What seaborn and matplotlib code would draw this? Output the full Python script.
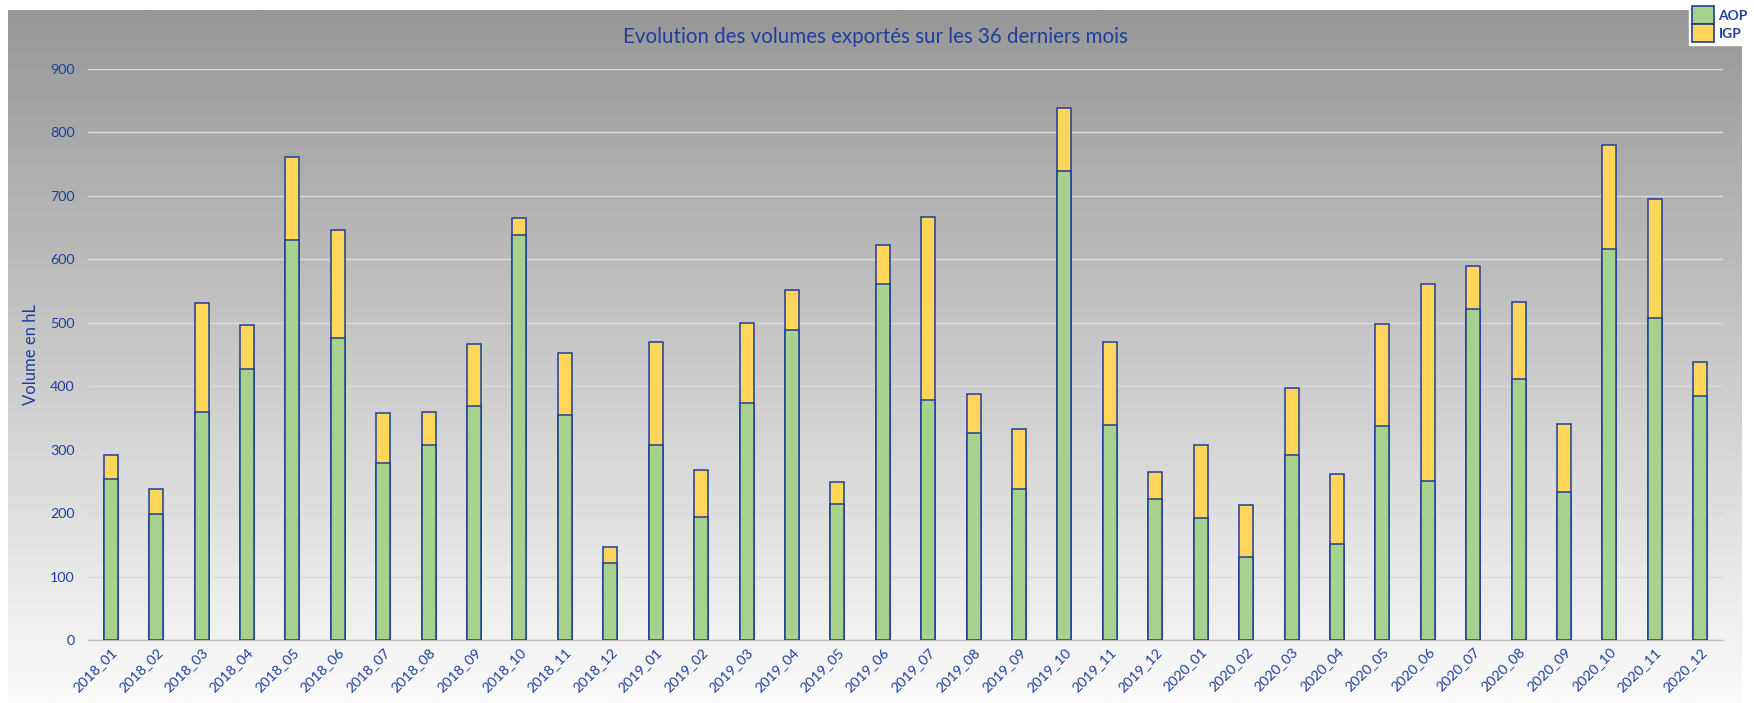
import numpy as np
import pandas as pd
import matplotlib
matplotlib.use("Agg")
import matplotlib.pyplot as plt
from matplotlib.patches import Patch
from matplotlib.colors import LinearSegmentedColormap
import seaborn as sns

months = ["2018_01", "2018_02", "2018_03", "2018_04", "2018_05", "2018_06",
          "2018_07", "2018_08", "2018_09", "2018_10", "2018_11", "2018_12",
          "2019_01", "2019_02", "2019_03", "2019_04", "2019_05", "2019_06",
          "2019_07", "2019_08", "2019_09", "2019_10", "2019_11", "2019_12",
          "2020_01", "2020_02", "2020_03", "2020_04", "2020_05", "2020_06",
          "2020_07", "2020_08", "2020_09", "2020_10", "2020_11", "2020_12"]
aop = [254, 198, 360, 427, 630, 476, 279, 307, 369, 639, 355, 122,
       307, 194, 374, 489, 215, 561, 378, 326, 238, 739, 339, 222,
       192, 131, 291, 152, 337, 251, 522, 411, 233, 616, 508, 385]
total = [291, 238, 531, 496, 761, 646, 358, 360, 466, 665, 452, 146,
         469, 268, 499, 551, 249, 623, 667, 388, 333, 838, 469, 265,
         307, 212, 397, 261, 498, 561, 589, 533, 341, 780, 695, 438]
igp = [t - a for t, a in zip(total, aop)]
yticks = [0, 100, 200, 300, 400, 500, 600, 700, 800, 900]

df = pd.DataFrame({"mois": months, "AOP": aop, "IGP": igp})
df["total"] = df["AOP"] + df["IGP"]

sns.set_style("white")
plt.rcParams["font.family"] = ["Lato", "DejaVu Sans"]

W, H = 1754, 703
fig = plt.figure(figsize=(W / 100, H / 100), dpi=100)
fig.patch.set_facecolor("white")

# gradient chart-area background
bg = fig.add_axes([8 / W, 0, (1742 - 8) / W, (H - 10) / H])
cmap = LinearSegmentedColormap.from_list("g", ["#979797", "#fbfbfb"])
grad = np.linspace(0, 1, 256).reshape(-1, 1)
bg.imshow(grad, aspect="auto", cmap=cmap, extent=[0, 1, 0, 1], origin="upper")
bg.set_axis_off()

blue = "#1F3F9F"
edge = "#1F3D99"
ax = fig.add_axes([88 / W, (H - 640) / H, (1723 - 88) / W, (640 - 69) / H])
ax.set_facecolor("none")

sns.barplot(data=df, x="mois", y="total", color="#FFD55A", edgecolor=edge,
            linewidth=1.1, width=0.31, saturation=1, ax=ax, zorder=3)
sns.barplot(data=df, x="mois", y="AOP", color="#A9D18E", edgecolor=edge,
            linewidth=1.1, width=0.31, saturation=1, ax=ax, zorder=4)

ax.set_ylim(0, 900)
ax.set_xlim(-0.5, len(months) - 0.5)
ax.set_yticks(yticks)
ax.yaxis.grid(True, color="#DADADA", linewidth=1.0, zorder=0)
ax.set_axisbelow(True)
for s in ["top", "right", "left"]:
    ax.spines[s].set_visible(False)
ax.spines["bottom"].set_color("#BFBFBF")
ax.spines["bottom"].set_linewidth(1.0)
ax.tick_params(axis="both", length=0, colors=blue, labelsize=10.3)
ax.tick_params(axis="y", pad=9.5)
ax.tick_params(axis="x", pad=4)
plt.setp(ax.get_xticklabels(), rotation=45, ha="right", rotation_mode="anchor")
ax.set_xlabel("")
ax.set_ylabel("Volume en hL", color=blue, fontsize=12)
ax.yaxis.set_label_coords((39 - 88) / (1723 - 88), 0.5)

fig.text(875 / W, 1 - 37 / H, "Evolution des volumes exportés sur les 36 derniers mois",
         ha="center", va="center", color=blue, fontsize=14.8)

# legend box
handles = [Patch(facecolor="#A9D18E", edgecolor=edge, linewidth=1.2, label="AOP"),
           Patch(facecolor="#FFD55A", edgecolor=edge, linewidth=1.2, label="IGP")]
leg = fig.legend(handles=handles, loc="upper right", bbox_to_anchor=(1.0, 1.0),
                 frameon=True, fancybox=False, facecolor="white", edgecolor="white",
                 framealpha=1, handlelength=1.6, handleheight=1.6, labelspacing=0.0,
                 handletextpad=0.3, borderpad=0.25, borderaxespad=0.2,
                 prop={"weight": "bold", "size": 10})
for t in leg.get_texts():
    t.set_color(blue)

fig.savefig("out.png", dpi=100)
